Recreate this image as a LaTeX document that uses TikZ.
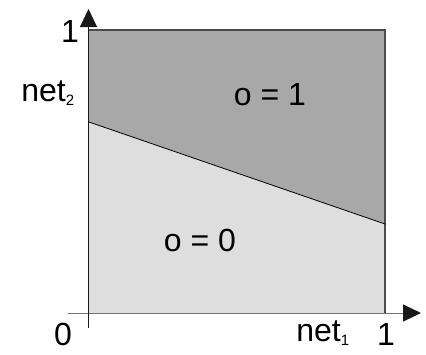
\documentclass[tikz,border=0pt]{standalone}
\usepackage{fontspec}
\setmainfont{Liberation Sans}
\usetikzlibrary{arrows.meta}

\newcommand{\subsz}{\fontsize{15}{15}\selectfont}

\begin{document}
\begin{tikzpicture}[
  x=1pt,y=-1pt,
  lbl/.style={font=\fontsize{32}{33}\selectfont,inner sep=0pt},
  axis/.style={line width=1pt,-{Triangle[length=18pt,width=17pt,color=black!90]}},
  upper/.style={fill=black!34},
  lower/.style={fill=black!13}
]
  \useasboundingbox (0,0) rectangle (426,354);

  % regions
  \fill[lower] (89,122) -- (385,224) -- (385,313) -- (89,313) -- cycle;
  \fill[upper] (89,30) -- (385,30) -- (385,224) -- (89,122) -- cycle;
  \draw[black!70,line width=1.2pt] (89,30) -- (385,30) -- (385,313);
  \draw[line width=0.8pt] (89,122) -- (385,224);

  % axes
  \coordinate (xs) at (68,313);
  \coordinate (xe) at (421,313);
  \coordinate (ys) at (88.5,328);
  \coordinate (ye) at (88.5,9);
  \draw[axis,black!55] (xs) -- (xe);
  \draw[axis,black!90] (ys) -- (ye);

  % labels
  \node[lbl] (one1) at (70,31) {1};
  \node[lbl] (net2) at (48,93) {net\textsubscript{\subsz 2}};
  \node[lbl] (o1) at (270,95) {o = 1};
  \node[lbl] (o0) at (200,240) {o = 0};
  \node[lbl] (zero) at (63,334) {0};
  \node[lbl] (net1) at (323,333) {net\textsubscript{\subsz 1}};
  \node[lbl] (one2) at (386,334) {1};
\end{tikzpicture}
\end{document}
